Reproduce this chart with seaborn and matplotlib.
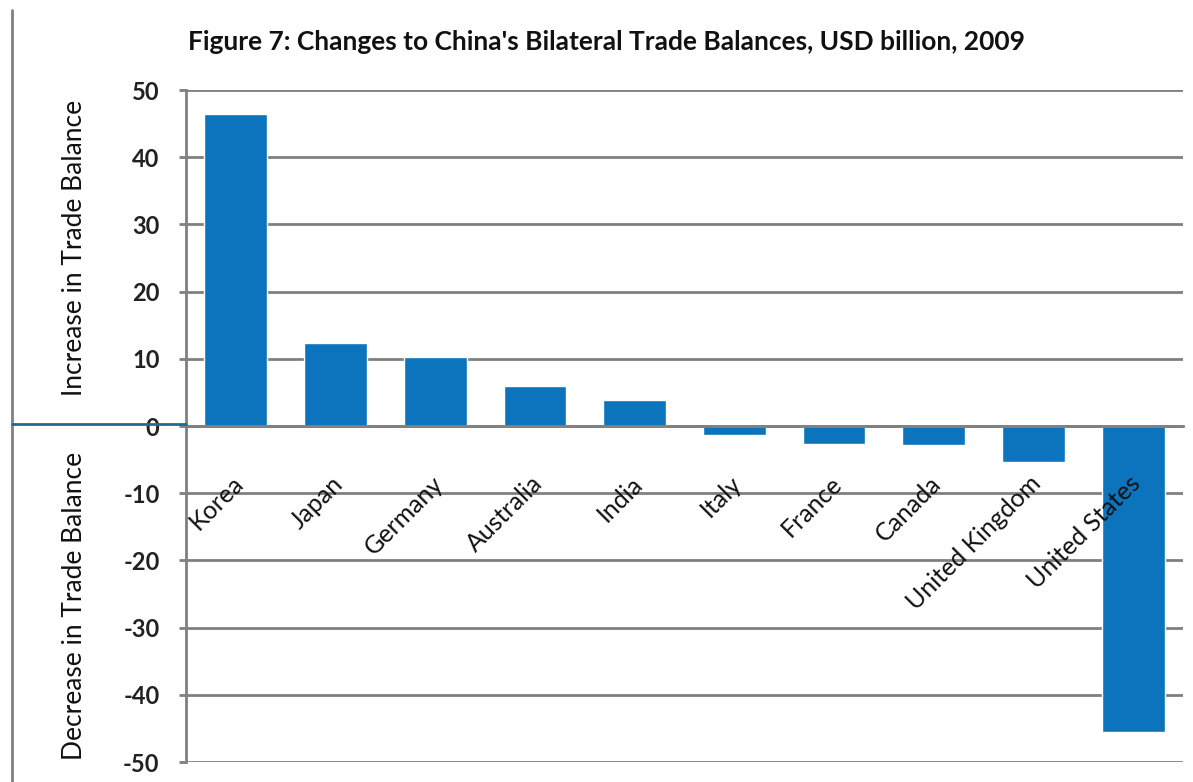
import matplotlib
matplotlib.use("Agg")
import matplotlib.pyplot as plt
import seaborn as sns
import pandas as pd
from matplotlib.lines import Line2D

# data
countries = ["Korea", "Japan", "Germany", "Australia", "India", "Italy",
             "France", "Canada", "United Kingdom", "United States"]
balance_change = [46.5, 12.3, 10.3, 6.0, 3.9, -1.4, -2.7, -2.8, -5.3, -45.6]
y_ticks = [-50, -40, -30, -20, -10, 0, 10, 20, 30, 40, 50]

BAR_BLUE = "#0B74BC"
GRID_GREY = "#808080"

sns.set_theme(style="white")
plt.rcParams["font.family"] = ["Lato", "DejaVu Sans"]

df = pd.DataFrame({"country": countries, "change": balance_change})

fig = plt.figure(figsize=(11.93, 7.82), dpi=100)
ax = fig.add_axes([186 / 1193, 1 - 762 / 782, (1183 - 186) / 1193, (762 - 90) / 782])

sns.barplot(data=df, x="country", y="change", color=BAR_BLUE, width=0.63,
            saturation=1, ax=ax)

ax.set_ylim(-50, 50)
ax.set_yticks(y_ticks)
ax.set_yticklabels([str(t) for t in y_ticks], fontsize=17, fontweight="bold",
                   color="#222222")
ax.yaxis.grid(True, color=GRID_GREY, linewidth=2)
ax.set_axisbelow(True)
ax.set_xlabel("")
ax.set_ylabel("")

# x axis sits on the zero line
ax.spines["bottom"].set_position(("data", 0))
ax.spines["bottom"].set_color(GRID_GREY)
ax.spines["bottom"].set_linewidth(2)
ax.spines["left"].set_color(GRID_GREY)
ax.spines["left"].set_linewidth(2)
ax.spines["top"].set_visible(False)
ax.spines["right"].set_visible(False)
ax.tick_params(axis="x", length=0, labelbottom=False)
ax.tick_params(axis="y", length=5, width=2, color=GRID_GREY, pad=14, left=True)

# category names hang under the zero line at 45 degrees, drawn over the bars
for i, name in enumerate(countries):
    ax.text(i + 0.04, -8.0, name, rotation=45, ha="right", va="center",
            rotation_mode="anchor", fontsize=18, color="#111111", zorder=5)

fig.text(0.508, 1 - 42 / 782,
         "Figure 7: Changes to China's Bilateral Trade Balances, USD billion, 2009",
         ha="center", va="center", fontsize=19, fontweight="bold", color="#111111")

fig.text(75 / 1193, 1 - 248 / 782, "Increase in Trade Balance", rotation=90,
         ha="center", va="center", fontsize=19, color="#111111")
fig.text(75 / 1193, 1 - 606 / 782, "Decrease in Trade Balance", rotation=90,
         ha="center", va="center", fontsize=19, color="#111111")

# outer frame line on the left and the zero line running out to it
fig.add_artist(Line2D([12 / 1193, 12 / 1193], [0, 1 - 10 / 782],
                      transform=fig.transFigure, color=GRID_GREY, linewidth=2))
fig.add_artist(Line2D([12 / 1193, 186 / 1193], [1 - 424 / 782, 1 - 424 / 782],
                      transform=fig.transFigure, color="#1F6A99", linewidth=2))

fig.savefig("out.png", dpi=100, facecolor="white")
